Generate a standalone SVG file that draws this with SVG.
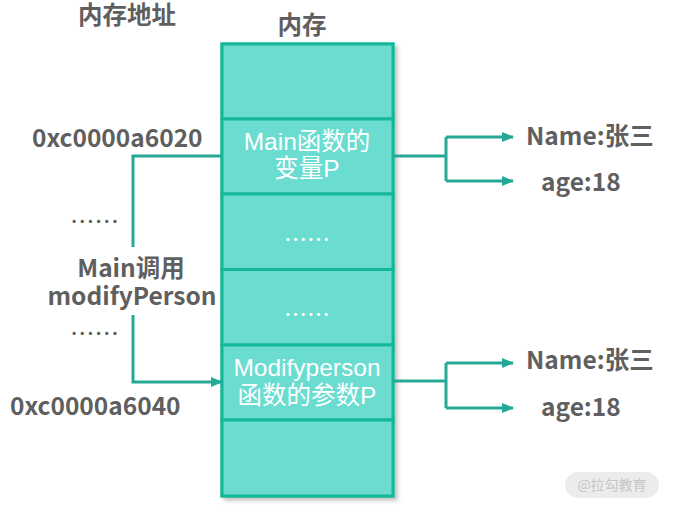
<svg xmlns="http://www.w3.org/2000/svg" width="686" height="508" viewBox="0 0 686 508">
<defs>
<style>
.lbl{font-family:"Noto Sans CJK SC","Noto Sans",sans-serif;font-weight:bold;fill:#5f5f5f;font-size:24.5px}
.cell{fill:#6adcd0;stroke:#14b897;stroke-width:3}
.in{font-family:"Liberation Sans","Noto Sans CJK SC",sans-serif;fill:#ffffff;font-size:24.5px;text-anchor:middle}
.dots{font-family:"Noto Sans CJK SC",sans-serif;font-size:23px}
.conn{fill:none;stroke:#26a896;stroke-width:3}
</style>
<marker id="ah" markerWidth="12" markerHeight="10" refX="11" refY="5" orient="auto" markerUnits="userSpaceOnUse">
<path d="M0,0 L12,5 L0,10 Z" fill="#26a896"/>
</marker>
<filter id="sh" x="-10%" y="-10%" width="130%" height="130%">
<feDropShadow dx="3" dy="3" stdDeviation="2" flood-color="#000" flood-opacity="0.25"/>
</filter>
</defs>
<rect width="686" height="508" fill="#ffffff"/>
<text class="lbl" x="78" y="24">内存地址</text>
<text class="lbl" x="302" y="34" text-anchor="middle">内存</text>
<g id="memory" filter="url(#sh)">
<rect class="cell" x="222" y="44" width="171" height="452"/>
</g>
<g id="cell1"><rect class="cell" x="222" y="44" width="171" height="75"/></g>
<g id="cell2"><rect class="cell" x="222" y="119" width="171" height="75"/>
<text class="in" x="307" y="150">Main函数的</text>
<text class="in" x="307" y="177">变量P</text></g>
<g id="cell3"><rect class="cell" x="222" y="194" width="171" height="75.5"/>
<text class="in dots" x="307" y="248">……</text></g>
<g id="cell4"><rect class="cell" x="222" y="269.5" width="171" height="75.5"/>
<text class="in dots" x="307" y="323">……</text></g>
<g id="cell5"><rect class="cell" x="222" y="345" width="171" height="75"/>
<text class="in" x="307" y="376">Modifyperson</text>
<text class="in" x="307" y="404">函数的参数P</text></g>
<g id="cell6"><rect class="cell" x="222" y="420" width="171" height="76"/></g>
<g id="connectors">
<path class="conn" d="M222,156 H133 V247"/>
<path class="conn" d="M133,315 V382 H222" marker-end="url(#ah)"/>
<path class="conn" d="M393,156 H446 M446,137 V181"/>
<path class="conn" d="M446,137 H513" marker-end="url(#ah)"/>
<path class="conn" d="M446,181 H513" marker-end="url(#ah)"/>
<path class="conn" d="M393,381 H446 M446,363 V408"/>
<path class="conn" d="M446,363 H513" marker-end="url(#ah)"/>
<path class="conn" d="M446,408 H513" marker-end="url(#ah)"/>
</g>
<g id="addr1"><text class="lbl" x="32" y="147">0xc0000a6020</text></g>
<g id="dots1"><text class="lbl" x="70" y="231" style="font-weight:normal">……</text></g>
<g id="call"><text class="lbl" x="131" y="277" text-anchor="middle">Main调用</text>
<text class="lbl" x="132" y="305" text-anchor="middle">modifyPerson</text></g>
<g id="dots2"><text class="lbl" x="70" y="343" style="font-weight:normal">……</text></g>
<g id="addr2"><text class="lbl" x="10" y="415">0xc0000a6040</text></g>
<g id="val1"><text class="lbl" x="526" y="145">Name:张三</text>
<text class="lbl" x="541" y="191">age:18</text></g>
<g id="val2"><text class="lbl" x="526" y="369">Name:张三</text>
<text class="lbl" x="541" y="416">age:18</text></g>
<g id="wm"><rect x="565" y="472" width="94" height="26" rx="13" fill="#ececec"/>
<text x="612" y="490" text-anchor="middle" font-family="Noto Sans CJK SC,sans-serif" font-size="14" fill="#c6c6c6">@拉勾教育</text></g>
</svg>
